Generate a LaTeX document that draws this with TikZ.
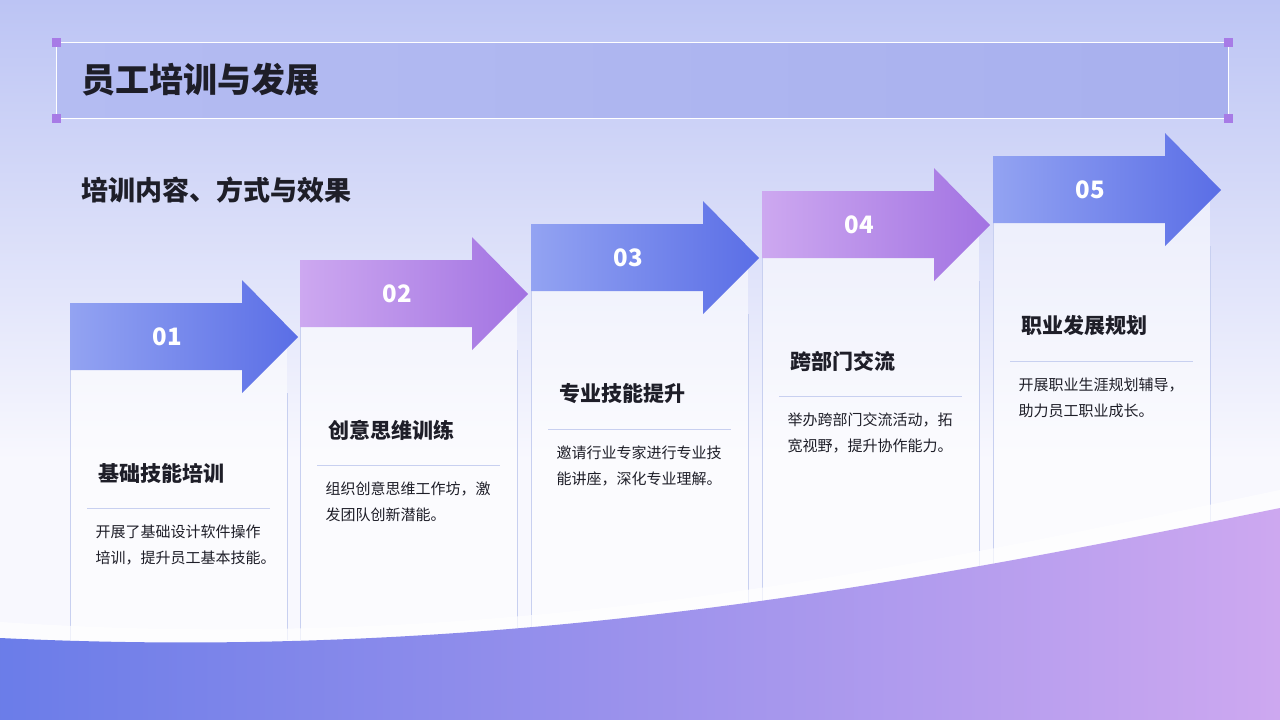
\documentclass[tikz,border=0pt]{standalone}
\usepackage{fontspec}
\setmainfont{Noto Sans CJK SC}
\usetikzlibrary{fadings}
\definecolor{bgtop}{HTML}{BCC4F4}
\definecolor{bgbot}{HTML}{F8F8FE}
\definecolor{bA}{HTML}{93A3F2}
\definecolor{bB}{HTML}{5A6EE6}
\definecolor{pA}{HTML}{CDA8F0}
\definecolor{pB}{HTML}{A273E2}
\definecolor{txt}{HTML}{1E1E28}
\definecolor{sep}{HTML}{C8D0F0}
\definecolor{cornc}{HTML}{A77BE6}
\definecolor{barL}{HTML}{B4BCF2}
\definecolor{barR}{HTML}{A8B0EE}
\tikzset{
 card/.style={fill=white,fill opacity=0.55,draw=none},
 cardedge/.style={draw=sep,line width=1pt},
 head/.style={font=\fontsize{21}{26}\selectfont\bfseries,text=txt,anchor=west},
 desc/.style={font=\fontsize{15}{26}\selectfont,text=txt,anchor=north west,align=left},
 num/.style={font=\fontsize{24}{28}\selectfont\bfseries,text=white},
 corner/.style={fill=cornc,draw=none,minimum size=9pt,inner sep=0pt}
}
\begin{document}
\begin{tikzpicture}[x=1pt,y=-1pt]
\useasboundingbox (0,0) rectangle (1280,720);
\shade[top color=bgtop,bottom color=bgbot] (0,0) rectangle (1280,460);
\fill[bgbot] (0,460) rectangle (1280,720);
% title bar
\shade[left color=barL,right color=barR] (56,42) rectangle (1228,118);
\draw[white,line width=1pt] (56,42) rectangle (1228,118);
\foreach \p/\q in {56/42,1228/42,56/118,1228/118}
  \node[corner] at (\p,\q) {};
\node[anchor=west,font=\fontsize{34}{40}\selectfont\bfseries,text=txt] (title) at (78,80) {员工培训与发展};
\node[anchor=west,font=\fontsize{27}{32}\selectfont\bfseries,text=txt] (sub) at (78,190) {培训内容、方式与效果};
% cards and arrows
\foreach \i/\x/\c/\A/\B/\h/\dA/\dB in {
 1/70/337/bA/bB/基础技能培训/开展了基础设计软件操作/培训，提升员工基本技能。,
 2/300/294/pA/pB/创意思维训练/组织创意思维工作坊，激/发团队创新潜能。,
 3/531/258/bA/bB/专业技能提升/邀请行业专家进行专业技/能讲座，深化专业理解。,
 4/762/225/pA/pB/跨部门交流/举办跨部门交流活动，拓/宽视野，提升协作能力。,
 5/993/190/bA/bB/职业发展规划/开展职业生涯规划辅导，/助力员工职业成长。}{
  \fill[card] (\x,\c) rectangle (\x+217,640);
  \draw[cardedge] (\x,\c) -- (\x,640) (\x+217,\c+56) -- (\x+217,640);
  \shade[left color=\A,right color=\B] (\x,\c-34) -- (\x+172,\c-34) -- (\x+172,\c-57) -- (\x+228,\c) -- (\x+172,\c+56) -- (\x+172,\c+33) -- (\x,\c+33) -- cycle;
  \node[num] (n\i) at (\x+97,\c) {0\i};
  \node[head] (h\i) at (\x+25,\c+136) {\h};
  \draw[sep] (\x+17,\c+171) -- (\x+200,\c+171);
  \node[desc] (d\i) at (\x+22,\c+184) {\dA\\\dB};
}
% bottom wave
\fill[white,opacity=0.7] (0,622) .. controls (500,655) and (900,570) .. (1280,490) -- (1280,720) -- (0,720) -- cycle;
\shade[left color=bB!90!white,right color=pA] (0,638) .. controls (500,662) and (900,585) .. (1280,508) -- (1280,720) -- (0,720) -- cycle;
\end{tikzpicture}
\end{document}
